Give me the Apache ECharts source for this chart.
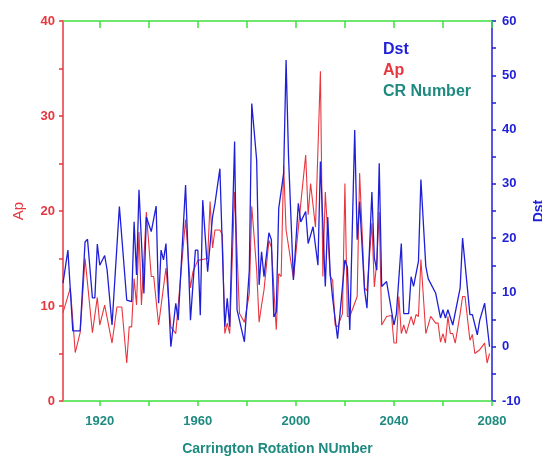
<!DOCTYPE html>
<html>
<head>
<meta charset="utf-8">
<script src="https://cdn.jsdelivr.net/npm/echarts@6/dist/echarts.min.js"></script>
<style>
html,body{margin:0;padding:0;background:#fff;}
#chart{width:542px;height:457px;}
</style>
</head>
<body>
<div id="chart"></div>
<script>
// Carrington rotation numbers (x) and values
var dstCR = [1905,1907,1909,1912,1914,1915,1917,1918,1919,1920,
  1922,1923,1925,1928,1931,1933,1934,1935,1936,1938,
  1939,1941,1943,1944,1945,1946,1947,1949,1951,1952,
  1955,1957,1959,1960,1961,1962,1964,1966,1967,1969,
  1971,1972,1973,1975,1976,1979,1981,1982,1984,1985,
  1986,1987,1989,1990,1991,1992,1993,1995,1996,1997,
  1999,2001,2002,2004,2005,2007,2009,2010,2012,2013,
  2014,2015,2017,2018,2020,2021,2022,2024,2025,2026,
  2028,2029,2031,2032,2033,2034,2035,2037,2040,2041,
  2043,2044,2046,2047,2048,2050,2051,2053,2054,2057,
  2059,2060,2061,2062,2064,2067,2068,2071,2072,2074,
  2075,2077,2079];
var dstValues = [11.7,17.8,2.9,2.9,19.3,19.8,9.0,9.0,18.9,15.0,
  16.8,14.1,4.0,25.8,8.6,8.3,23.0,13.2,28.9,9.8,
  23.9,21.2,25.9,8.0,17.8,16.0,19.0,0.0,8.0,4.9,
  29.8,4.9,17.8,17.8,5.8,27.0,13.8,23.9,26.4,32.8,
  3.7,8.9,3.7,37.8,6.8,0.9,14.1,44.8,34.4,11.4,
  17.5,12.9,21.0,19.7,5.5,6.4,25.5,31.9,52.8,35.0,
  12.3,26.4,23.0,24.9,19.0,22.1,15.0,34.1,11.1,23.9,
  13.5,8.9,1.5,6.1,16.0,14.7,3.1,39.9,19.7,26.7,
  10.4,7.1,28.5,16.3,14.1,33.8,11.1,12.0,4.0,6.1,
  19.0,6.1,6.1,12.9,11.1,15.7,30.8,14.8,12.5,9.9,
  5.3,6.8,5.3,6.8,4.0,10.8,20.0,5.9,5.9,2.2,
  4.9,8.0,0.0];

var apCR = [1905,1908,1910,1912,1914,1917,1919,1920,1922,1925,
  1927,1929,1931,1932,1933,1934,1935,1936,1937,1939,
  1941,1942,1944,1947,1949,1951,1955,1957,1958,1960,
  1964,1965,1966,1967,1969,1970,1971,1972,1973,1975,
  1977,1979,1981,1982,1984,1985,1986,1987,1989,1990,
  1992,1993,1994,1995,1996,1999,2002,2004,2005,2006,
  2008,2010,2011,2012,2014,2015,2016,2017,2019,2020,
  2021,2022,2025,2026,2028,2029,2031,2032,2033,2034,
  2035,2037,2039,2040,2041,2042,2043,2044,2045,2047,
  2048,2049,2050,2051,2053,2055,2057,2058,2059,2060,
  2061,2062,2063,2064,2065,2067,2068,2069,2071,2072,
  2073,2075,2077,2078,2079];
var apValues = [9.3,11.9,5.1,7.2,15.0,7.2,10.9,8.0,10.1,6.1,
  9.9,9.9,4.0,7.8,7.8,12.9,10.1,17.8,10.1,19.9,
  13.1,13.1,8.0,14.0,7.8,7.1,19.1,11.9,13.6,14.8,
  15.0,21.0,16.1,18.0,18.0,17.5,7.1,8.2,7.1,22.0,
  9.2,8.3,11.3,20.5,13.8,8.3,10.1,11.7,16.9,16.2,
  7.5,13.4,13.1,24.8,18.0,12.9,20.8,25.9,19.6,22.9,
  18.3,34.7,13.1,22.0,13.1,12.7,8.0,7.8,9.2,22.9,
  8.9,8.9,11.0,24.0,11.9,11.6,18.7,12.0,14.7,19.9,
  8.0,8.9,9.0,6.1,6.1,11.0,7.1,8.0,7.1,8.9,
  8.0,9.1,8.9,14.9,7.1,8.9,8.2,8.2,6.2,7.1,
  6.1,8.9,7.1,7.1,6.1,9.2,11.0,11.0,6.4,7.0,
  5.0,5.4,6.1,4.0,5.0];

var xTicks = [1920,1940,1960,1980,2000,2020,2040,2060,2080];
var xLabels = [1920,1960,2000,2040,2080];
var apTicks = [0,5,10,15,20,25,30,35,40];
var apLabels = [0,10,20,30,40];
var dstTicks = [-10,-5,0,5,10,15,20,25,30,35,40,45,50,55,60];
var dstLabels = [-10,0,10,20,30,40,50,60];

var RED = '#e8363f', BLUE = '#1f1fd8', GREEN = '#3ee03e', TEAL = '#1f8a80';
var FONT = '"Liberation Sans", Arial, sans-serif';

function pairs(xs, ys){ var o=[]; for (var i=0;i<xs.length;i++) o.push([xs[i], ys[i]]); return o; }
function plain(v){ return String(v); }

var chart = echarts.init(document.getElementById('chart'), null, {renderer:'canvas'});
chart.setOption({
  animation: false,
  backgroundColor: '#ffffff',
  grid: {left: 63, right: 50, top: 21, bottom: 56, containLabel: false, outerBoundsMode: 'none'},
  legend: {
    orient: 'vertical', left: 373, top: 37, itemGap: 5,
    icon: 'none', itemWidth: 0, itemHeight: 14, selectedMode: false,
    textStyle: {fontFamily: FONT, fontSize: 16, fontWeight: 'bold', padding: 0},
    data: [
      {name: 'Dst', textStyle: {color: BLUE}},
      {name: 'Ap', textStyle: {color: RED}},
      {name: 'CR Number', textStyle: {color: TEAL}}
    ]
  },
  xAxis: [
    {
      type: 'value', position: 'bottom', min: 1905, max: 2080,
      name: 'Carrington Rotation NUmber', nameLocation: 'middle', nameGap: 41,
      nameTextStyle: {color: TEAL, fontFamily: FONT, fontSize: 14, fontWeight: 'bold'},
      axisLine: {show: true, onZero: false, lineStyle: {color: GREEN, width: 1.5}},
      axisTick: {show: true, inside: false, length: 5, customValues: xTicks, lineStyle: {color: GREEN, width: 1.5}},
      axisLabel: {show: true, customValues: xLabels, formatter: plain, margin: 14, color: TEAL, fontFamily: FONT, fontSize: 13, fontWeight: 'bold'},
      splitLine: {show: false}
    },
    {
      type: 'value', position: 'top', min: 1905, max: 2080,
      axisLine: {show: true, onZero: false, lineStyle: {color: GREEN, width: 1.5}},
      axisTick: {show: true, inside: true, length: 7, customValues: xTicks, lineStyle: {color: GREEN, width: 1.5}},
      axisLabel: {show: false},
      splitLine: {show: false}
    }
  ],
  yAxis: [
    {
      type: 'value', position: 'left', min: 0, max: 40,
      name: 'Ap', nameLocation: 'middle', nameGap: 37, nameRotate: 90,
      nameTextStyle: {color: RED, fontFamily: FONT, fontSize: 15},
      axisLine: {show: true, onZero: false, lineStyle: {color: RED, width: 1.5}},
      axisTick: {show: true, inside: false, length: 4, customValues: apTicks, lineStyle: {color: RED, width: 1.5}},
      axisLabel: {customValues: apLabels, formatter: plain, margin: 8, color: RED, fontFamily: FONT, fontSize: 13, fontWeight: 'bold'},
      splitLine: {show: false}
    },
    {
      type: 'value', position: 'right', min: -10, max: 60,
      name: 'Dst', nameLocation: 'middle', nameGap: 36, nameRotate: 90,
      nameTextStyle: {color: BLUE, fontFamily: FONT, fontSize: 14, fontWeight: 'bold'},
      axisLine: {show: true, onZero: false, lineStyle: {color: BLUE, width: 1.5}},
      axisTick: {show: true, inside: false, length: 4, customValues: dstTicks, lineStyle: {color: BLUE, width: 1.5}},
      axisLabel: {customValues: dstLabels, formatter: plain, margin: 10, color: BLUE, fontFamily: FONT, fontSize: 13, fontWeight: 'bold'},
      splitLine: {show: false}
    }
  ],
  series: [
    {
      name: 'Dst', type: 'line', xAxisIndex: 0, yAxisIndex: 1,
      data: pairs(dstCR, dstValues), showSymbol: false, symbol: 'none',
      lineStyle: {color: BLUE, width: 1.3}, itemStyle: {color: BLUE}, z: 3
    },
    {
      name: 'Ap', type: 'line', xAxisIndex: 0, yAxisIndex: 0,
      data: pairs(apCR, apValues), showSymbol: false, symbol: 'none',
      lineStyle: {color: RED, width: 1.1}, itemStyle: {color: RED}, z: 2
    },
    {
      name: 'CR Number', type: 'line', xAxisIndex: 0, yAxisIndex: 0,
      data: [], itemStyle: {color: TEAL}
    }
  ]
});
</script>
</body>
</html>
